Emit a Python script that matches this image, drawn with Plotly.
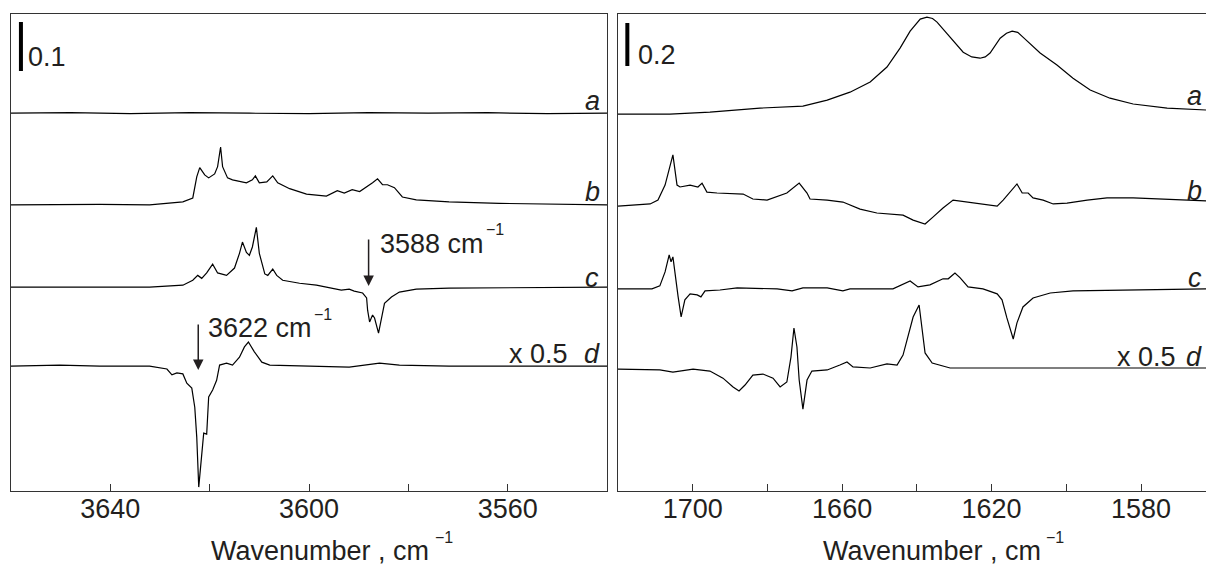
import plotly.graph_objects as go

W, H = 1206, 569

# ---------------- LEFT PANEL (3660-3540 cm-1), absorbance relative to trace baseline ----------------
L_a_wn = [3660, 3648, 3636, 3624, 3612, 3600, 3588, 3576, 3564, 3552, 3540]
L_a = [0.0, 0.001, -0.001, 0.001, 0.0, -0.001, 0.001, 0.0, 0.001, -0.001, 0.0]

L_b_wn = [3660.0, 3642.1, 3632.1, 3625.4, 3623.4, 3622.6, 3622.0, 3621.0, 3620.2, 3619.0, 3618.4,
          3617.8, 3617.4, 3616.4, 3615.4, 3612.6, 3611.4, 3610.8, 3610.0, 3608.5, 3607.3, 3606.3,
          3603.9, 3600.5, 3596.5, 3595.3, 3594.3, 3592.9, 3591.3, 3589.8, 3588.2, 3587.2, 3586.2,
          3585.2, 3584.2, 3582.8, 3581.2, 3578.4, 3571.8, 3561.7, 3540.0]
L_b = [0.0, 0.001, 0.0, 0.006, 0.014, 0.057, 0.076, 0.061, 0.055, 0.063, 0.078,
       0.118, 0.078, 0.055, 0.051, 0.045, 0.051, 0.059, 0.045, 0.047, 0.059, 0.045,
       0.033, 0.022, 0.018, 0.024, 0.029, 0.024, 0.031, 0.027, 0.037, 0.045, 0.053,
       0.041, 0.041, 0.035, 0.016, 0.010, 0.006, 0.003, 0.0]

L_c_wn = [3660.0, 3632.1, 3625.4, 3623.4, 3622.4, 3621.6, 3620.6, 3619.4, 3618.4, 3616.6, 3615.0,
          3614.0, 3613.4, 3612.6, 3612.0, 3611.4, 3610.6, 3610.0, 3608.9, 3608.3, 3607.3, 3606.5,
          3605.3, 3601.9, 3598.5, 3593.5, 3591.9, 3590.9, 3589.2, 3588.4, 3588.2, 3587.8, 3587.2,
          3586.8, 3586.0, 3585.4, 3584.8, 3583.4, 3581.8, 3578.4, 3571.8, 3540.0]
L_c = [0.0, 0.0, 0.004, 0.014, 0.024, 0.018, 0.029, 0.047, 0.029, 0.024, 0.039,
       0.069, 0.092, 0.071, 0.065, 0.082, 0.122, 0.069, 0.027, 0.024, 0.037, 0.024,
       0.014, 0.008, 0.004, -0.006, -0.004, -0.008, -0.012, -0.022, -0.047, -0.071, -0.057,
       -0.063, -0.094, -0.061, -0.033, -0.020, -0.010, -0.004, -0.002, 0.0]

L_d_wn = [3660.0, 3650.2, 3642.1, 3632.1, 3628.6, 3627.6, 3626.6, 3625.4, 3624.6, 3623.6, 3623.0,
          3622.6, 3622.2, 3621.6, 3621.2, 3620.6, 3620.2, 3619.4, 3618.6, 3618.0, 3616.6, 3615.4,
          3614.0, 3613.0, 3612.2, 3611.0, 3609.5, 3607.9, 3598.5, 3591.9, 3585.8, 3581.8, 3571.8, 3540.0]
L_d = [0.0, 0.002, 0.0, 0.0, -0.006, -0.018, -0.014, -0.016, -0.035, -0.045, -0.084,
       -0.145, -0.247, -0.178, -0.137, -0.139, -0.063, -0.049, -0.029, 0.002, 0.006, 0.002,
       0.018, 0.039, 0.049, 0.029, 0.008, 0.002, 0.0, -0.002, 0.006, 0.002, 0.0, 0.0]

L_offsets = [0.771, 0.584, 0.416, 0.255]   # a, b, c, d
L_scale_bar = 0.1

# ---------------- RIGHT PANEL (1720-1563 cm-1) ----------------
R_a_wn = [1720.0, 1706.1, 1695.4, 1682.0, 1670.5, 1664.0, 1657.9, 1652.5, 1648.0, 1644.5,
          1641.8, 1640.3, 1639.1, 1637.3, 1635.8, 1634.6, 1633.0, 1631.1, 1627.6, 1625.3,
          1623.1, 1621.7, 1620.4, 1617.7, 1616.0, 1614.5, 1613.0, 1611.6, 1609.3, 1607.0,
          1602.5, 1598.2, 1593.6, 1588.3, 1582.1, 1573.0, 1562.6]
R_a = [0.0, 0.0, 0.009, 0.028, 0.037, 0.065, 0.102, 0.149, 0.219, 0.307,
       0.386, 0.420, 0.442, 0.451, 0.445, 0.428, 0.397, 0.358, 0.288, 0.266,
       0.260, 0.266, 0.284, 0.353, 0.376, 0.386, 0.380, 0.358, 0.322, 0.284,
       0.228, 0.167, 0.112, 0.074, 0.047, 0.028, 0.019]

R_b_wn = [1720.0, 1711.4, 1709.3, 1707.4, 1705.3, 1704.2, 1703.4, 1700.7, 1698.6, 1697.5, 1696.2,
          1693.5, 1686.5, 1683.9, 1680.1, 1674.8, 1671.5, 1669.4, 1668.6, 1664.0, 1659.8, 1657.9,
          1655.2, 1650.7, 1643.7, 1641.0, 1637.8, 1635.7, 1633.0, 1630.3, 1626.6, 1622.3, 1618.5,
          1616.9, 1614.5, 1613.2, 1611.8, 1610.2, 1608.9, 1606.2, 1603.5, 1599.8, 1594.4, 1589.1,
          1582.1, 1573.0, 1562.6]
R_b = [-0.005, 0.005, 0.023, 0.093, 0.233, 0.093, 0.084, 0.093, 0.084, 0.102, 0.060,
       0.056, 0.051, 0.028, 0.023, 0.056, 0.102, 0.056, 0.028, 0.023, 0.014, 0.0,
       -0.019, -0.037, -0.047, -0.070, -0.088, -0.056, -0.014, 0.023, 0.014, 0.005, -0.005,
       0.023, 0.070, 0.098, 0.056, 0.056, 0.033, 0.023, 0.005, 0.009, 0.023, 0.033,
       0.033, 0.028, 0.019]

R_c_wn = [1720.0, 1710.9, 1708.8, 1707.4, 1706.3, 1705.8, 1705.3, 1704.7, 1703.9, 1703.1, 1702.1,
          1700.7, 1698.8, 1697.8, 1696.7, 1692.7, 1688.1, 1677.4, 1673.4, 1670.5, 1664.0, 1659.8,
          1657.9, 1646.4, 1644.5, 1641.8, 1639.7, 1636.5, 1633.0, 1631.6, 1629.8, 1628.4, 1626.3,
          1622.3, 1618.5, 1617.2, 1615.9, 1614.2, 1613.2, 1611.6, 1608.9, 1604.3, 1598.2, 1586.4, 1562.6]
R_c = [0.0, 0.0, 0.014, 0.079, 0.158, 0.126, 0.149, 0.056, -0.037, -0.130, -0.051,
       -0.023, -0.028, -0.037, -0.009, -0.005, 0.005, 0.0, -0.009, 0.005, 0.005, -0.009,
       0.0, 0.0, 0.014, 0.037, 0.009, 0.019, 0.047, 0.047, 0.074, 0.051, 0.009,
       0.0, -0.023, -0.051, -0.135, -0.233, -0.158, -0.084, -0.042, -0.019, -0.009, -0.005, 0.0]

R_d_wn = [1720.0, 1708.8, 1705.3, 1699.9, 1695.4, 1691.9, 1689.2, 1687.6, 1686.0, 1683.9, 1681.2,
          1678.5, 1676.6, 1674.8, 1673.7, 1672.9, 1672.1, 1671.5, 1670.5, 1669.4, 1668.1, 1664.0,
          1660.6, 1658.7, 1657.1, 1652.5, 1648.0, 1645.3, 1643.7, 1642.6, 1641.0, 1639.4, 1638.6,
          1637.8, 1635.9, 1631.1, 1617.7, 1562.6]
R_d = [-0.005, -0.009, -0.019, -0.005, -0.014, -0.047, -0.088, -0.107, -0.079, -0.033, -0.028,
       -0.047, -0.088, -0.065, 0.051, 0.186, 0.098, -0.056, -0.191, -0.056, -0.014, -0.009,
       0.014, 0.028, 0.005, 0.0, 0.019, 0.014, 0.060, 0.130, 0.237, 0.293, 0.191,
       0.070, 0.023, 0.0, 0.0, 0.0]

R_offsets = [1.753, 1.330, 0.940, 0.572]   # a, b, c, d
R_scale_bar = 0.2

trace_labels = ["a", "b", "c", "d"]
left_ticks = [3640, 3620, 3600, 3580, 3560]
left_ticktext = ["3640", "", "3600", "", "3560"]
right_ticks = [1700, 1680, 1660, 1640, 1620, 1600, 1580]
right_ticktext = ["1700", "", "1660", "", "1620", "", "1580"]

# ---------------- figure ----------------
INK = "#231f20"
FONT = "Liberation Sans, Arial, Helvetica, sans-serif"
FS = 27

fig = go.Figure()
left_sets = [(L_a_wn, L_a), (L_b_wn, L_b), (L_c_wn, L_c), (L_d_wn, L_d)]
right_sets = [(R_a_wn, R_a), (R_b_wn, R_b), (R_c_wn, R_c), (R_d_wn, R_d)]
for (wn, vals), off in zip(left_sets, L_offsets):
    fig.add_trace(go.Scatter(x=wn, y=[v + off for v in vals], mode="lines",
                             line=dict(color="black", width=1.2), xaxis="x", yaxis="y",
                             showlegend=False, hoverinfo="skip"))
for (wn, vals), off in zip(right_sets, R_offsets):
    fig.add_trace(go.Scatter(x=wn, y=[v + off for v in vals], mode="lines",
                             line=dict(color="black", width=1.2), xaxis="x2", yaxis="y2",
                             showlegend=False, hoverinfo="skip"))

def px(x):
    return x / W

def py(y):
    return 1 - y / H

axis_common = dict(showline=True, linecolor="#333", linewidth=1.2, showgrid=False, zeroline=False,
                   ticks="inside", ticklen=7, tickwidth=1, tickcolor="#333",
                   tickfont=dict(family=FONT, size=FS, color=INK), ticklabelstandoff=-7)

fig.update_layout(
    width=W, height=H, margin=dict(l=0, r=0, t=0, b=0),
    paper_bgcolor="white", plot_bgcolor="white",
    xaxis=dict(domain=[px(11), px(607)], range=[3660, 3540], mirror=True,
               tickmode="array", tickvals=left_ticks, ticktext=left_ticktext, anchor="y", **axis_common),
    yaxis=dict(domain=[py(491), py(14)], range=[0, 477 / 490], showline=True, mirror=True,
               linecolor="#333", linewidth=1.2, showticklabels=False, ticks="", showgrid=False,
               zeroline=False, anchor="x"),
    xaxis2=dict(domain=[px(618), 1.0], range=[1720, 1562.6], mirror=True,
                tickmode="array", tickvals=right_ticks, ticktext=right_ticktext, anchor="y2", **axis_common),
    yaxis2=dict(domain=[py(491), py(14)], range=[0, 477 / 215], showline=True, mirror=False,
                linecolor="#333", linewidth=1.2, showticklabels=False, ticks="", showgrid=False,
                zeroline=False, anchor="x2"),
)

# scale bars
fig.add_shape(type="line", xref="x", yref="y", x0=3658.0, x1=3658.0,
              y0=(491 - 71) / 490, y1=(491 - 71) / 490 + L_scale_bar, line=dict(color="black", width=4))
fig.add_shape(type="line", xref="x2", yref="y2", x0=1717.5, x1=1717.5,
              y0=(491 - 66) / 215, y1=(491 - 66) / 215 + R_scale_bar, line=dict(color="black", width=4))

def txt(text, x, y, size=FS, xanchor="left", italic=False):
    fig.add_annotation(text=text, x=px(x), y=py(y), xref="paper", yref="paper",
                       xanchor=xanchor, yanchor="middle", showarrow=False,
                       font=dict(family=FONT, size=size, color=INK,
                                 style="italic" if italic else "normal"))

txt(str(L_scale_bar), 26, 57)
txt(str(R_scale_bar), 636, 55)

# trace letters
for lab, yy in zip(trace_labels, [101, 192, 278, 354]):
    txt(lab, 592, yy, xanchor="center", italic=True)
for lab, yy in zip(trace_labels, [96, 191, 278, 357]):
    txt(lab, 1204, yy, xanchor="right", italic=True)
txt("x 0.5", 538, 354, xanchor="center")
txt("x 0.5", 1146, 357, xanchor="center")

# peak markers (arrows)
fig.add_annotation(x=3588, y=(491 - 286) / 490, xref="x", yref="y", ax=0, ay=-48, text="",
                   showarrow=True, arrowhead=2, arrowsize=1.4, arrowwidth=1.5, arrowcolor=INK)
fig.add_annotation(x=3622.3, y=(491 - 370) / 490, xref="x", yref="y", ax=0, ay=-47, text="",
                   showarrow=True, arrowhead=2, arrowsize=1.4, arrowwidth=1.5, arrowcolor=INK)
txt("3588 cm", 378, 244)
txt("\u22121", 484, 230, size=16)
txt("3622 cm", 206, 328)
txt("\u22121", 312, 314, size=16)

# axis titles
txt("Wavenumber , cm", 320, 551, xanchor="center")
txt("\u22121", 433, 537, size=16)
txt("Wavenumber , cm", 932, 551, xanchor="center")
txt("\u22121", 1044, 537, size=16)

fig.write_html("out.html", config={"displayModeBar": False},
               post_script="document.body.style.margin='0px';document.body.style.overflow='hidden';")
